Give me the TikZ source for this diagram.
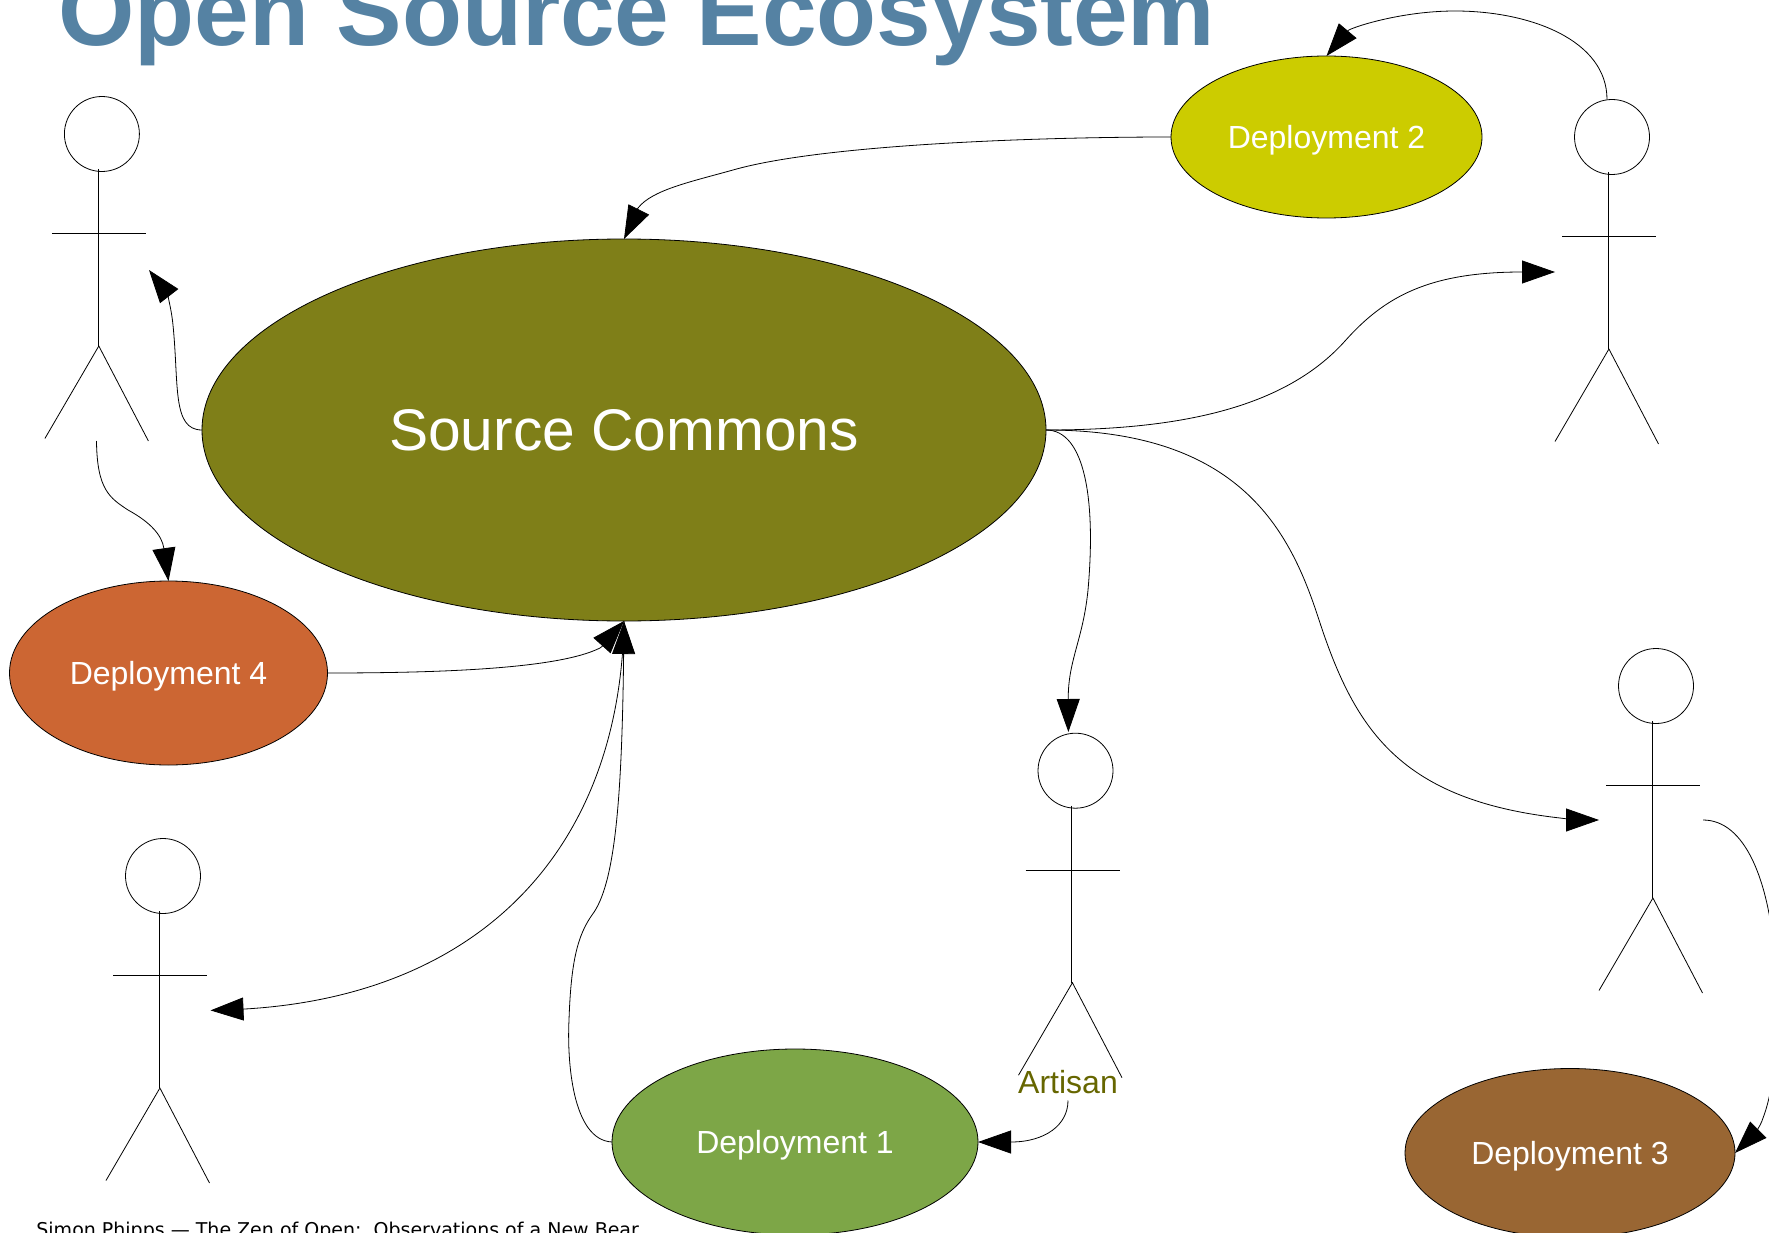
\documentclass[tikz,border=0pt]{standalone}
\usepackage{fontspec}
\setmainfont{Liberation Sans}
\newfontfamily\footfont{DejaVu Sans}
\usetikzlibrary{arrows.meta, shapes.geometric}

\definecolor{commons}{HTML}{7F7F18}
\definecolor{dep1}{HTML}{7DA647}
\definecolor{dep2}{HTML}{CCCC00}
\definecolor{dep3}{HTML}{996633}
\definecolor{dep4}{HTML}{CC6633}
\definecolor{titleblue}{HTML}{5582A3}
\definecolor{artisan}{HTML}{666600}

\begin{document}
\begin{tikzpicture}[x=1pt,y=-1pt,line width=0.8pt,>={Triangle[length=33pt,width=23pt]},
	blob/.style={ellipse,draw,outer sep=0pt,inner sep=0pt,text=white,text height=30pt,font=\fontsize{32}{36}\selectfont},
	head/.style={circle,draw,outer sep=0pt,inner sep=0pt,minimum size=75pt}]
	
	\useasboundingbox (0,0) rectangle (1769,1233);
	\clip (0,0) rectangle (1769,1233);
	
	\node (title) [anchor=base west,text=titleblue,inner sep=0pt,font=\fontsize{98.2}{100}\selectfont\bfseries] at (58,46) {Open Source Ecosystem};
	\node (footer) [anchor=base west,inner sep=0pt,font=\footfont\fontsize{19}{22}\selectfont] at (36,1236.5) {Simon Phipps — The Zen of Open:\ \ Observations of a New Bear};
	
	\node (commons) [blob,fill=commons,minimum width=844pt,minimum height=382pt,text height=42pt,font=\fontsize{58.7}{64}\selectfont] at (624,430) {Source Commons};
	\node (dep1) [blob,fill=dep1,minimum width=366pt,minimum height=186pt] at (795,1142) {Deployment 1};
	\node (dep2) [blob,fill=dep2,minimum width=311pt,minimum height=162pt] at (1326.5,137) {Deployment 2};
	\node (dep3) [blob,fill=dep3,minimum width=330pt,minimum height=169pt] at (1570,1153) {Deployment 3};
	\node (dep4) [blob,fill=dep4,minimum width=318pt,minimum height=184pt] at (168.5,673) {Deployment 4};
	
	% stick figures
	\foreach \name/\hx/\hy in {act1/101.9/134, act2/1612/137, act3/163/876, act4/1075.5/770.7, act5/1656/686} {
		\node (\name) [head] at (\hx,\hy) {};
		\begin{scope}[shift={(\hx,\hy)}]
			\draw (-3.7,35) -- (-3.7,212);
			\draw (-50,99.7) -- (44,99.7);
			\draw (-57,304.5) -- (-3.1,212) -- (46.5,307);
		\end{scope}
	}
	
	\node (artisan) [anchor=base,text=artisan,inner sep=0pt,font=\fontsize{32}{36}\selectfont] at (1068,1093) {Artisan};
	
	\coordinate (act1in) at (149,270);
	\coordinate (act1out) at (96.5,441);
	\coordinate (act2in) at (1555,272);
	\coordinate (act3in) at (210.5,1010.4);
	\coordinate (act4in) at (1068.4,732);
	\coordinate (act5in) at (1599,820);
	\coordinate (act5out) at (1703,820);
	\coordinate (artout) at (1068,1100.5);
	
	\draw [->] (commons.west) .. controls (172,430) and (179,385) .. (173,325) .. controls (171,305) and (166,292) .. (act1in);
	\draw [->] (dep2.west) .. controls (1030,137) and (820,145) .. (733,170) .. controls (690,182) and (652,190) .. (638,208) .. controls (634,214) and (630,227) .. (commons.north);
	\draw [->] (act2.north -| 1607,0) .. controls (1607,40) and (1530,11) .. (1455,11) .. controls (1400,11) and (1350,28) .. (dep2.north);
	\draw [->] (commons.east) .. controls (1180,430) and (1285,408) .. (1345,341) .. controls (1385,296) and (1430,272) .. (act2in);
	\draw [->] (commons.east) .. controls (1085,430) and (1096,500) .. (1088,590) .. controls (1083,640) and (1068,660) .. (act4in);
	\draw [->] (commons.east) .. controls (1240,430) and (1290,530) .. (1319,620) .. controls (1355,730) and (1400,800) .. (1560,818) .. controls (1575,820) and (1585,820) .. (act5in);
	\draw [->] (act5out) .. controls (1745,820) and (1769,880) .. (1775,960) .. controls (1782,1040) and (1772,1095) .. (1763,1118) .. controls (1760,1128) and (1752,1136) .. (dep3.east);
	\draw [->] (dep4.east) .. controls (450,673) and (560,668) .. (600,648) .. controls (606,644) and (615,631) .. (commons.south);
	\draw [->] (commons.south) .. controls (620,850) and (480,995) .. (245,1009) .. controls (232,1010) and (220,1010) .. (act3in);
	\draw [->] (dep1.west) .. controls (572,1140) and (567,1060) .. (569,1020) .. controls (571,960) and (578,935) .. (592,915) .. controls (615,885) and (622,800) .. (commons.south);
	\draw [->] (act1out) .. controls (97,490) and (110,498) .. (128,510) .. controls (150,522) and (162,535) .. (dep4.north);
	\draw [->] (artout) .. controls (1068,1125) and (1045,1142) .. (dep1.east);
\end{tikzpicture}
\end{document}
